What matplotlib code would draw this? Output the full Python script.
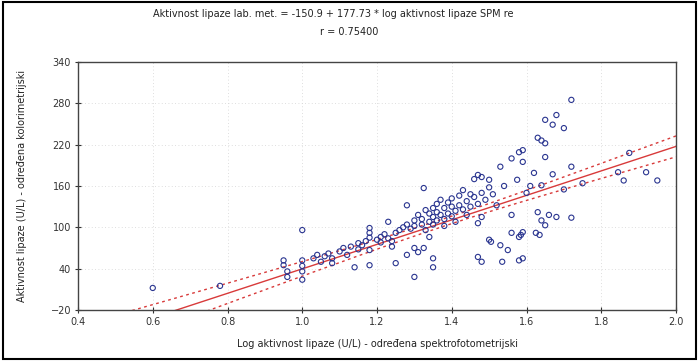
import numpy as np
import matplotlib
matplotlib.use("Agg")
from matplotlib import pyplot as plt
from matplotlib.patches import Rectangle

# log lipase activity (spectrophotometric) vs lipase activity (lab method)
log_spm = [0.60, 0.78, 0.95, 0.95, 0.96, 0.96, 1.00, 1.00, 1.00, 1.00, 1.00,
           1.03, 1.04, 1.05, 1.06, 1.07, 1.08, 1.08, 1.10, 1.11, 1.12, 1.13,
           1.14, 1.15, 1.15, 1.16, 1.17, 1.18, 1.18, 1.18, 1.18, 1.18, 1.20,
           1.21, 1.21, 1.22, 1.23, 1.23, 1.24, 1.24, 1.25, 1.25, 1.26, 1.27,
           1.28, 1.28, 1.28, 1.29, 1.30, 1.30, 1.30, 1.30, 1.31, 1.31, 1.32,
           1.32, 1.325, 1.325, 1.33, 1.33, 1.34, 1.34, 1.34, 1.35, 1.35, 1.35,
           1.35, 1.35, 1.36, 1.36, 1.36, 1.37, 1.37, 1.38, 1.38, 1.38, 1.39,
           1.39, 1.40, 1.40, 1.40, 1.41, 1.41, 1.42, 1.42, 1.43, 1.43, 1.44,
           1.44, 1.45, 1.45, 1.46, 1.46, 1.47, 1.47, 1.47, 1.47, 1.48, 1.48,
           1.48, 1.48, 1.49, 1.50, 1.50, 1.50, 1.505, 1.51, 1.52, 1.53, 1.53,
           1.535, 1.54, 1.55, 1.56, 1.56, 1.56, 1.575, 1.58, 1.58, 1.58, 1.585,
           1.59, 1.59, 1.59, 1.59, 1.60, 1.61, 1.62, 1.625, 1.63, 1.63, 1.635,
           1.64, 1.64, 1.64, 1.65, 1.65, 1.65, 1.65, 1.66, 1.67, 1.67, 1.68,
           1.68, 1.70, 1.70, 1.72, 1.72, 1.72, 1.75, 1.845, 1.86, 1.875, 1.92,
           1.95]
lab = [12, 15, 52, 45, 36, 28, 96, 52, 44, 36, 24,
       55, 60, 50, 58, 62, 55, 48, 65, 70, 60, 72,
       42, 68, 77, 74, 80, 99, 92, 85, 67, 45, 82,
       86, 78, 90, 108, 84, 80, 72, 92, 48, 96, 100,
       132, 104, 60, 98, 110, 102, 70, 28, 118, 64, 112,
       104, 157, 70, 125, 96, 120, 108, 86, 128, 115, 104,
       55, 42, 134, 122, 110, 140, 118, 128, 112, 102, 136,
       120, 142, 130, 116, 124, 108, 146, 132, 154, 126, 138,
       118, 148, 130, 170, 144, 176, 134, 106, 57, 173, 150,
       115, 50, 140, 169, 158, 82, 79, 148, 132, 188, 74,
       50, 160, 67, 200, 118, 92, 169, 209, 86, 52, 89,
       212, 195, 93, 55, 150, 160, 179, 92, 230, 122, 89,
       226, 161, 110, 256, 222, 202, 103, 118, 249, 177, 263,
       115, 244, 155, 285, 188, 114, 164, 180, 168, 208, 180,
       168]

# regression line as it sits in the picture
intercept = -138.0
slope = 177.73

title1 = "Aktivnost lipaze lab. met. = -150.9 + 177.73 * log aktivnost lipaze SPM re"
title2 = "r = 0.75400"
xlabel = "Log aktivnost lipaze (U/L) - određena spektrofotometrijski"
ylabel = "Aktivnost lipaze (U/L) - određena kolorimetrijski"
xticks = [0.4, 0.6, 0.8, 1.0, 1.2, 1.4, 1.6, 1.8, 2.0]
yticks = [-20, 40, 100, 160, 220, 280, 340]

x = np.array(log_spm)
y = np.array(lab)

fig = plt.figure(figsize=(6.99, 3.61), dpi=100)
ax = fig.add_axes([0.1116, 0.1413, 0.8555, 0.687])

ax.scatter(x, y, s=14, facecolors="none", edgecolors="#2a3590", linewidths=0.8, zorder=3)

# fitted line and confidence band
xx = np.linspace(0.4, 2.0, 200)
yy = intercept + slope * xx
n = len(x)
res = y - (intercept + slope * x)
s = np.sqrt(np.sum(res ** 2) / (n - 2))
sxx = np.sum((x - x.mean()) ** 2)
h = 1.75 * s * np.sqrt(1.0 / n + (xx - x.mean()) ** 2 / sxx)
ax.plot(xx, yy, color="#d83a3a", lw=1.0, zorder=2)
ax.plot(xx, yy + h, color="#d83a3a", lw=1.0, ls=(0, (2, 2.5)), zorder=2)
ax.plot(xx, yy - h, color="#d83a3a", lw=1.0, ls=(0, (2, 2.5)), zorder=2)

ax.set_xlim(0.4, 2.0)
ax.set_ylim(-20, 340)
ax.set_xticks(xticks)
ax.set_yticks(yticks)
ax.set_xticklabels(["%.1f" % t for t in xticks])
ax.grid(True, color="#d4d4d4", lw=0.6, ls=(0, (1, 3)))
ax.tick_params(direction="inout", length=4, width=0.8, labelsize=7, colors="#333333", pad=3)
for sp in ax.spines.values():
    sp.set_color("#444444")
    sp.set_linewidth(1.0)

ax.set_xlabel(xlabel, fontsize=7, color="#222222", labelpad=9)
ax.set_ylabel(ylabel, fontsize=7, color="#222222", labelpad=17)
fig.text(0.477, 0.962, title1, ha="center", va="center", fontsize=7, color="#222222")
fig.text(0.50, 0.912, title2, ha="center", va="center", fontsize=7, color="#222222")

# outer frame
fig.patches.append(Rectangle((0.004, 0.006), 0.992, 0.988, transform=fig.transFigure,
                             fill=False, edgecolor="black", lw=1.5))

fig.savefig("out.png", dpi=100)
